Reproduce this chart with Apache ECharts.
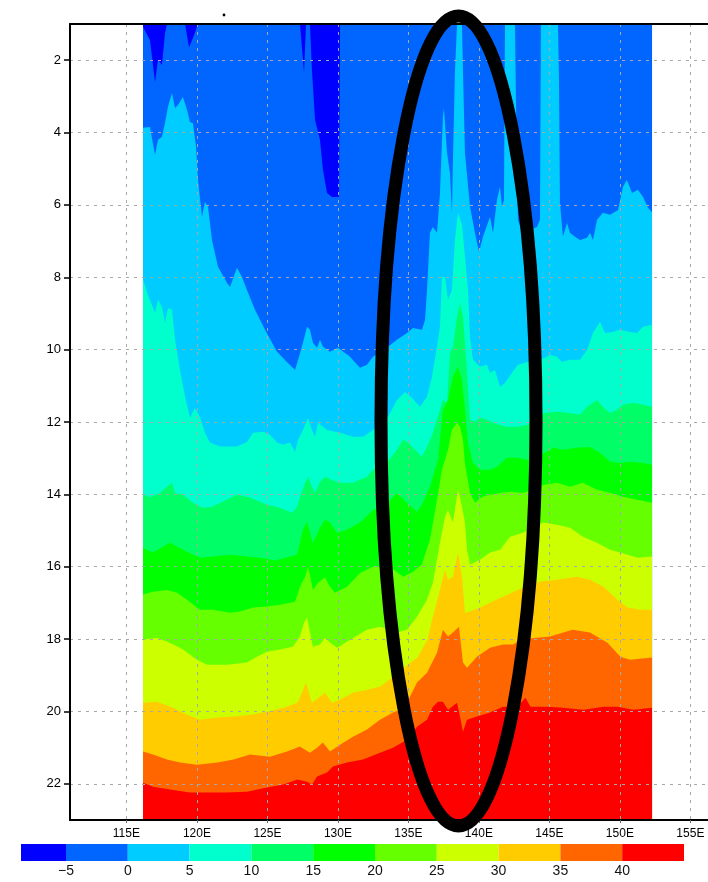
<!DOCTYPE html>
<html>

<head>
  <meta charset="utf-8">
  <title>contour</title>
  <script src="https://cdn.jsdelivr.net/npm/echarts@6/dist/echarts.min.js"></script>
  <style>body { margin: 0; background: #fff; }</style>
</head>

<body>
  <div id="main" style="width: 708px;height:882px;"></div>
  <script type="text/javascript">
    // shading levels and colours (one more colour than levels)
    var levels = [-5, 0, 5, 10, 15, 20, 25, 30, 35, 40];
    var shades = ['#0000ff', '#0066ff', '#00ccff', '#00ffcc', '#00ff66', '#00ff00',
      '#66ff00', '#ccff00', '#ffcc00', '#ff6600', '#ff0000'];
    var lonTicks = [115, 120, 125, 130, 135, 140, 145, 150, 155];
    var yTicks = [2, 4, 6, 8, 10, 12, 14, 16, 18, 20, 22];

    // data domain: top row of the field, from first to last longitude
    var domain = [[116.18, 1], [152.28, 1]];

    // contour lines, [lon, y] where the field crosses each level
    var cM5 = [[116.18, 1.08], [116.67, 1.44], [117.03, 2.60], [117.24, 1.99], [117.52, 2.13], [117.74, 1.25],
      [117.88, 1], [119.16, 1], [119.44, 1.64], [119.72, 1.39], [120.08, 1], [127.31, 1], [127.60, 2.35],
      [127.74, 1], [128.02, 1], [128.16, 2.27], [128.38, 3.65], [128.73, 4.20], [128.94, 5.03], [129.23, 5.67],
      [129.58, 5.78], [130.08, 5.78], [130.15, 1], [152.28, 1]];

    var c0 = [[116.18, 3.87], [116.67, 3.85], [117.03, 4.62], [117.24, 4.20], [117.52, 4.12], [117.74, 3.73],
      [117.95, 3.29], [118.23, 2.91], [118.45, 3.32], [118.66, 3.24], [119.01, 3.02], [119.30, 3.38],
      [119.51, 3.71], [119.72, 3.74], [119.94, 4.40], [120.08, 5.31], [120.36, 6.33], [120.57, 5.92],
      [120.79, 6.06], [121.07, 6.97], [121.50, 7.71], [122.13, 8.15], [122.35, 8.27], [122.84, 7.74],
      [123.20, 7.99], [123.55, 8.35], [124.12, 8.90], [124.83, 9.45], [125.68, 10.06], [126.39, 10.34],
      [126.96, 10.56], [127.24, 10.20], [127.52, 9.81], [127.81, 9.37], [128.02, 9.45], [128.23, 9.81],
      [128.52, 9.95], [128.73, 9.73], [128.94, 9.92], [129.44, 10.06], [130.01, 9.95], [130.86, 10.20],
      [131.57, 10.50], [132.06, 10.42], [132.49, 10.20], [132.99, 10.06], [133.55, 9.92], [134.19, 9.73],
      [134.90, 9.54], [135.33, 9.40], [135.96, 9.45], [136.18, 9.18], [136.32, 8.35], [136.53, 6.77],
      [136.74, 6.61], [137.03, 6.77], [137.24, 5.67], [137.45, 3.57], [137.52, 3.32], [137.74, 4.56],
      [137.95, 5.12], [138.09, 6.22], [138.16, 4.76], [138.30, 2.35], [138.45, 1], [138.80, 1], [138.87, 2.27],
      [139.01, 4.56], [139.37, 6.05], [139.72, 6.77], [140.01, 7.30], [140.29, 6.88], [140.79, 6.33],
      [141.00, 6.77], [141.28, 5.86], [141.50, 5.50], [141.64, 6.05], [141.78, 5.86], [141.85, 1], [142.56, 1],
      [142.63, 3.10], [142.77, 6.41], [143.06, 6.77], [143.62, 6.69], [144.12, 6.61], [144.33, 6.41],
      [144.40, 1], [145.61, 1], [145.68, 2.49], [145.75, 5.94], [145.96, 6.88], [146.25, 6.50], [146.46, 6.77],
      [146.82, 6.88], [147.17, 6.97], [147.67, 6.91], [147.88, 6.77], [148.09, 6.97], [148.38, 6.41],
      [148.80, 6.22], [149.30, 6.27], [149.87, 6.14], [150.22, 5.50], [150.50, 5.31], [150.86, 5.67],
      [151.28, 5.58], [151.64, 5.78], [151.99, 6.08], [152.28, 6.20]];

    var c5 = [[116.18, 8.05], [116.53, 8.50], [117.03, 8.98], [117.24, 8.62], [117.52, 8.82], [117.74, 9.26],
      [117.95, 8.85], [118.23, 8.90], [118.45, 9.73], [118.80, 10.56], [119.16, 11.30], [119.51, 11.88],
      [119.86, 11.61], [120.22, 11.86], [120.57, 12.30], [120.93, 12.57], [121.64, 12.68], [122.84, 12.68],
      [123.55, 12.55], [123.98, 12.30], [124.69, 12.27], [125.18, 12.35], [125.68, 12.57], [126.11, 12.63],
      [126.60, 12.57], [126.96, 12.82], [127.17, 12.49], [127.52, 12.22], [127.88, 11.88], [128.16, 12.22],
      [128.38, 12.41], [128.59, 12.02], [129.23, 12.22], [130.15, 12.30], [131.07, 12.41], [131.78, 12.41],
      [132.49, 12.22], [132.99, 12.05], [133.55, 11.86], [134.19, 11.39], [134.76, 11.17], [135.25, 11.33],
      [135.82, 11.58], [136.32, 11.30], [136.67, 10.75], [137.03, 9.92], [137.24, 9.37], [137.38, 7.99],
      [137.60, 7.99], [137.81, 8.62], [138.09, 8.35], [138.30, 6.97], [138.52, 6.22], [138.80, 6.55],
      [139.01, 7.41], [139.23, 8.35], [139.37, 9.65], [139.58, 10.28], [140.08, 10.47], [140.57, 10.42],
      [140.79, 10.64], [141.14, 10.56], [141.50, 11.03], [141.85, 10.92], [142.35, 10.64], [142.77, 10.42],
      [143.27, 10.36], [143.98, 10.28], [144.69, 10.23], [145.04, 10.14], [145.54, 10.20], [145.89, 10.34],
      [146.46, 10.28], [147.17, 10.28], [147.67, 10.01], [148.09, 9.54], [148.59, 9.23], [148.94, 9.54],
      [149.51, 9.51], [150.01, 9.45], [150.72, 9.51], [151.21, 9.54], [151.64, 9.37], [152.28, 9.31]];

    var c10 = [[116.18, 14.01], [116.67, 14.07], [117.38, 13.96], [117.88, 13.79], [118.23, 13.68],
      [118.45, 13.96], [119.01, 14.01], [119.72, 14.23], [120.43, 14.37], [121.07, 14.34], [121.85, 14.20],
      [122.84, 14.01], [123.77, 14.09], [124.97, 14.29], [125.89, 14.37], [126.74, 14.51], [127.10, 14.34],
      [127.31, 14.07], [127.67, 13.68], [127.88, 13.51], [128.16, 13.79], [128.38, 13.96], [128.73, 13.65],
      [129.09, 13.51], [129.58, 13.60], [130.15, 13.68], [131.07, 13.68], [132.06, 13.51], [132.49, 13.32],
      [132.99, 13.18], [133.62, 13.04], [134.19, 12.77], [134.62, 12.49], [134.97, 12.57], [135.47, 12.77],
      [135.96, 12.96], [136.32, 12.69], [136.74, 12.30], [137.24, 11.66], [137.45, 11.39], [137.74, 11.47],
      [137.95, 10.09], [138.16, 9.92], [138.45, 9.09], [138.66, 8.71], [138.87, 9.09], [139.16, 10.64],
      [139.37, 11.94], [139.72, 11.99], [140.08, 11.88], [140.57, 11.94], [141.00, 12.02], [141.50, 12.08],
      [141.99, 12.13], [142.70, 12.13], [143.40, 12.08], [144.12, 11.88], [144.69, 11.75], [145.54, 11.72],
      [146.46, 11.75], [147.17, 11.80], [147.67, 11.58], [148.38, 11.39], [148.80, 11.58], [149.30, 11.75],
      [149.79, 11.66], [150.22, 11.52], [150.96, 11.47], [151.64, 11.52], [152.28, 11.58]];

    var c15 = [[116.18, 15.48], [116.88, 15.61], [118.09, 15.34], [119.01, 15.53], [120.22, 15.75],
      [122.35, 15.67], [124.47, 15.75], [125.54, 15.83], [127.10, 15.67], [127.52, 14.98], [127.81, 14.76],
      [128.02, 15.06], [128.23, 15.34], [128.73, 14.92], [129.09, 14.70], [129.44, 14.78], [129.94, 15.06],
      [130.65, 14.98], [131.57, 14.78], [132.49, 14.43], [133.55, 14.23], [134.19, 13.96], [134.90, 14.23],
      [135.61, 14.48], [136.03, 14.23], [136.53, 13.79], [137.10, 13.04], [137.45, 11.66], [137.81, 11.39],
      [138.16, 10.75], [138.52, 10.48], [138.80, 10.83], [139.01, 11.66], [139.23, 12.57], [139.58, 13.13],
      [140.08, 13.32], [140.79, 13.32], [141.28, 13.24], [141.99, 12.99], [142.70, 12.99], [143.40, 13.04],
      [144.69, 12.85], [145.25, 12.71], [145.96, 12.77], [146.96, 12.71], [147.88, 12.69], [148.59, 12.85],
      [149.30, 13.10], [150.01, 13.13], [150.72, 13.10], [151.64, 13.13], [152.28, 13.18]];

    var c20 = [[116.18, 16.77], [116.89, 16.69], [117.88, 16.64], [118.59, 16.72], [119.30, 16.91],
      [120.22, 17.19], [121.14, 17.19], [122.35, 17.27], [123.06, 17.24], [123.98, 17.13], [124.97, 17.10],
      [125.89, 17.05], [126.96, 16.97], [127.31, 16.55], [127.67, 16.28], [127.88, 16.00], [128.09, 16.36],
      [128.23, 16.64], [128.59, 16.44], [129.09, 16.30], [129.44, 16.55], [129.79, 16.72], [130.65, 16.55],
      [131.57, 16.17], [132.49, 16.00], [133.70, 16.00], [134.62, 16.28], [135.33, 16.14], [135.96, 15.94],
      [136.53, 15.25], [137.03, 14.15], [137.38, 13.32], [137.81, 12.77], [138.09, 12.22], [138.45, 12.02],
      [138.66, 12.13], [138.87, 12.49], [139.01, 13.13], [139.37, 13.96], [139.72, 14.23], [140.21, 14.07],
      [140.79, 14.01], [141.50, 13.96], [142.21, 13.93], [143.13, 13.96], [144.69, 13.73], [145.54, 13.68],
      [146.46, 13.79], [147.38, 13.68], [148.38, 13.87], [149.33, 13.96], [150.26, 14.07], [151.25, 14.15],
      [152.28, 14.23]];

    var c25 = [[116.18, 18.02], [117.17, 17.96], [118.09, 18.10], [119.01, 18.29], [120.01, 18.57],
      [120.72, 18.71], [122.13, 18.71], [123.55, 18.65], [124.26, 18.49], [124.97, 18.35], [125.89, 18.29],
      [126.81, 18.21], [127.31, 17.93], [127.60, 17.55], [127.81, 17.41], [128.02, 17.82], [128.23, 18.21],
      [128.73, 18.15], [129.09, 17.96], [129.44, 18.10], [129.94, 18.24], [130.86, 18.02], [132.06, 17.74],
      [132.99, 17.66], [134.19, 17.82], [134.90, 17.74], [135.61, 17.38], [136.32, 16.91], [136.74, 16.44],
      [137.24, 15.34], [137.60, 14.62], [137.81, 14.43], [138.16, 14.78], [138.52, 13.87], [138.80, 14.34],
      [139.01, 14.78], [139.16, 15.53], [139.37, 15.94], [140.08, 15.81], [140.79, 15.61], [141.50, 15.53],
      [142.21, 15.17], [143.13, 15.06], [144.58, 14.78], [145.54, 14.84], [146.46, 14.92], [147.38, 15.17],
      [148.38, 15.34], [149.30, 15.53], [150.01, 15.61], [151.25, 15.75], [152.28, 15.72]];

    var c30 = [[116.18, 19.76], [117.17, 19.73], [118.30, 19.90], [119.30, 20.09], [120.22, 20.23],
      [121.46, 20.17], [122.60, 20.14], [123.77, 20.09], [124.97, 20.01], [126.14, 19.90], [127.13, 19.76],
      [127.45, 19.48], [127.74, 19.20], [127.88, 19.40], [128.16, 19.76], [128.62, 19.62], [129.09, 19.48],
      [129.58, 19.76], [130.15, 19.67], [131.07, 19.48], [132.10, 19.40], [132.99, 19.31], [133.94, 19.04],
      [134.44, 18.90], [134.94, 18.71], [135.65, 18.51], [136.35, 18.02], [136.74, 17.38], [137.24, 16.64],
      [137.60, 16.08], [137.81, 16.36], [138.16, 16.28], [138.52, 15.61], [138.80, 16.28], [139.01, 17.27],
      [139.37, 17.24], [140.08, 17.13], [140.79, 16.99], [141.71, 16.83], [142.74, 16.64], [143.45, 16.55],
      [144.33, 16.41], [145.54, 16.36], [146.96, 16.28], [147.88, 16.36], [148.84, 16.55], [149.83, 16.91],
      [150.54, 17.13], [151.46, 17.19], [152.28, 17.19]];

    var c35 = [[116.18, 21.11], [116.89, 21.19], [117.88, 21.33], [118.80, 21.41], [120.01, 21.47],
      [121.46, 21.41], [122.60, 21.33], [123.77, 21.19], [125.18, 21.25], [126.39, 21.11], [127.31, 20.97],
      [127.67, 21.06], [128.02, 21.14], [128.52, 21.00], [128.94, 20.86], [129.44, 21.11], [130.15, 20.92],
      [131.07, 20.70], [132.06, 20.50], [132.99, 20.23], [133.91, 20.03], [134.44, 19.95], [134.90, 19.76],
      [135.61, 19.20], [136.32, 18.93], [137.03, 18.38], [137.45, 17.74], [137.81, 17.93], [138.16, 17.82],
      [138.59, 17.66], [138.87, 18.65], [139.16, 18.79], [139.86, 18.49], [140.79, 18.24], [141.71, 18.15],
      [142.45, 18.15], [142.91, 18.02], [144.12, 17.96], [145.04, 17.93], [146.64, 17.74], [147.88, 17.82],
      [149.12, 18.10], [150.04, 18.49], [150.72, 18.57], [152.28, 18.51]];

    var c40 = [[116.18, 21.97], [116.89, 22.08], [118.09, 22.16], [119.51, 22.24], [120.72, 22.24],
      [122.13, 22.24], [123.55, 22.22], [124.97, 22.10], [126.14, 22.02], [127.13, 21.88], [127.81, 21.94],
      [128.16, 22.02], [128.52, 21.80], [129.23, 21.69], [129.65, 21.52], [130.65, 21.41], [131.78, 21.33],
      [132.99, 21.14], [133.91, 21.00], [134.90, 20.78], [135.61, 20.42], [136.32, 20.23], [136.74, 19.87],
      [137.10, 19.73], [137.45, 19.73], [137.81, 19.95], [138.09, 19.87], [138.45, 19.76], [138.66, 20.14],
      [138.87, 20.56], [139.16, 20.23], [139.86, 20.14], [140.79, 20.03], [141.71, 19.87], [142.74, 19.87],
      [143.30, 19.62], [143.66, 19.87], [144.87, 19.87], [145.96, 19.90], [147.42, 19.95], [148.84, 19.87],
      [149.83, 19.87], [150.96, 19.95], [152.28, 19.90]];

    var contours = [domain, cM5, c0, c5, c10, c15, c20, c25, c30, c35, c40];

    var myChart = echarts.init(document.getElementById('main'));

    // every band is filled from its contour down to the bottom of the axis,
    // later (warmer) bands painted over earlier ones
    var series = contours.map(function (pts, i) {
      return {
        type: 'line',
        data: pts,
        symbol: 'none',
        silent: true,
        clip: true,
        lineStyle: { width: 0, opacity: 0 },
        areaStyle: { color: shades[i], opacity: 1, origin: 'end' },
        z: 2
      };
    });

    var gridLine = { show: true, lineStyle: { color: '#a8a8a8', width: 1, type: [3, 5] } };
    var font = 'Liberation Sans';

    // colour bar under the plot
    var barLeft = 21, barFirst = 66, barStep = 61.8, barTop = 844, barH = 17;
    var graphics = [];
    shades.forEach(function (c, i) {
      var x0 = i === 0 ? barLeft : barFirst + (i - 1) * barStep;
      var x1 = barFirst + i * barStep;
      graphics.push({
        type: 'rect', silent: true,
        shape: { x: x0, y: barTop, width: x1 - x0, height: barH },
        style: { fill: c }
      });
    });
    levels.forEach(function (v, i) {
      graphics.push({
        type: 'text', silent: true,
        x: barFirst + i * barStep, y: 871,
        style: {
          text: v < 0 ? '\u2212' + (-v) : String(v),
          fontSize: 14, fontFamily: font, fill: '#111',
          align: 'center', verticalAlign: 'middle',
          textAlign: 'center', textVerticalAlign: 'middle'
        }
      });
    });
    // the hand-drawn ellipse and the stray dot
    graphics.push({
      type: 'ellipse', silent: true, z: 100,
      shape: { cx: 458.5, cy: 421, rx: 77.5, ry: 405 },
      style: { fill: 'none', stroke: '#000', lineWidth: 13 }
    });
    graphics.push({
      type: 'circle', silent: true, z: 100,
      shape: { cx: 224, cy: 15, r: 1.4 },
      style: { fill: '#000' }
    });

    // the plot runs past the right edge of the page
    var lonMin = 111, lonMax = 156.25;

    option = {
      animation: false,
      grid: { left: 70, right: 0, top: 24, bottom: 62 },
      xAxis: [
        {
          type: 'value', min: lonMin, max: lonMax, position: 'bottom', z: 5,
          axisLine: { show: true, onZero: false, lineStyle: { color: '#000', width: 2 } },
          axisTick: { show: true, customValues: lonTicks, length: 3, lineStyle: { color: '#666' } },
          axisLabel: {
            customValues: lonTicks, fontSize: 12, fontFamily: font, color: '#000', margin: 8,
            formatter: function (v) { return v + 'E'; }
          },
          splitLine: gridLine
        },
        {
          type: 'value', min: lonMin, max: lonMax, position: 'top', z: 5,
          axisLine: { show: true, onZero: false, lineStyle: { color: '#000', width: 2 } },
          axisTick: { show: false }, axisLabel: { show: false }, splitLine: { show: false }
        }
      ],
      yAxis: {
        type: 'value', min: 1, max: 23, inverse: true, z: 5,
        axisLine: { show: true, onZero: false, lineStyle: { color: '#000', width: 2 } },
        axisTick: { show: true, customValues: yTicks, length: 6, lineStyle: { color: '#000', width: 1.5 } },
        axisLabel: { customValues: yTicks, fontSize: 13, fontFamily: font, color: '#000', margin: 9 },
        splitLine: gridLine
      },
      series: series,
      graphic: graphics
    };

    myChart.setOption(option);
  </script>
</body>

</html>
